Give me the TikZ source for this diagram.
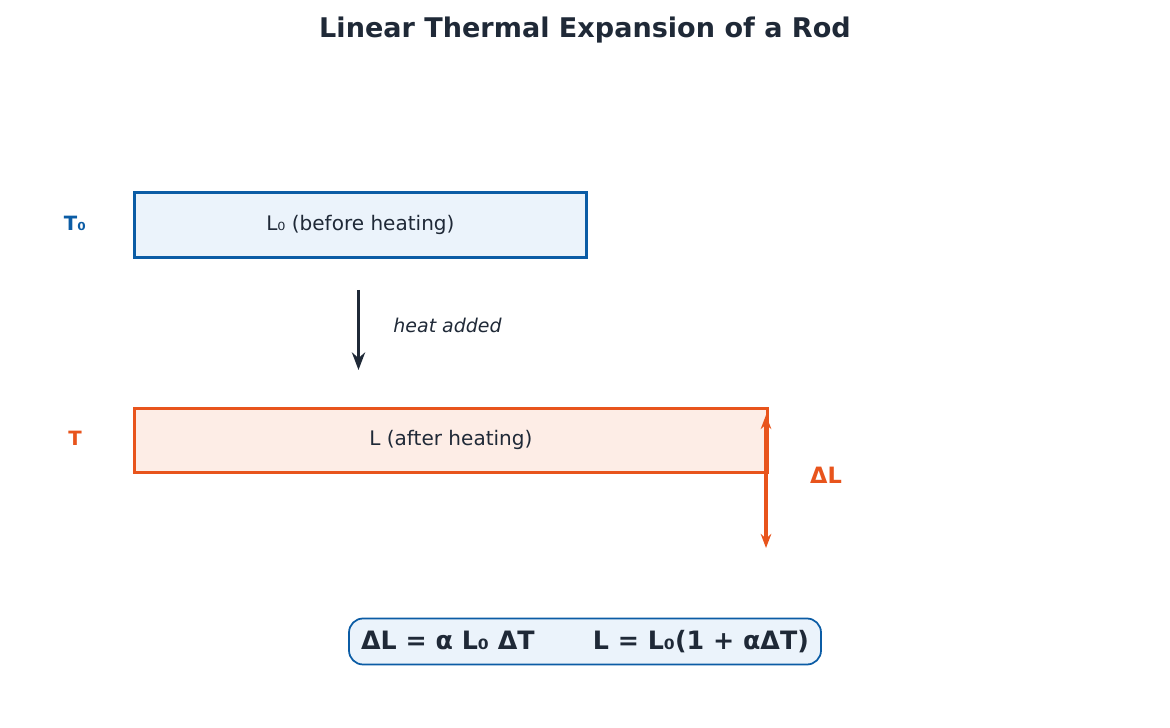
\documentclass[tikz,border=0pt]{standalone}
\usepackage{fontspec}
\setmainfont{DejaVu Sans}
\usetikzlibrary{positioning,arrows.meta}
\definecolor{ink}{HTML}{1F2937}
\definecolor{coldblue}{HTML}{0B5CA5}
\definecolor{coldfill}{HTML}{EBF3FB}
\definecolor{hotorange}{HTML}{E8541C}
\definecolor{hotfill}{HTML}{FDEDE6}
\tikzset{
  rod/.style={draw, line width=0.8pt, inner sep=0pt, anchor=north west, font=\fontsize{5.7}{6}\selectfont, text=ink},
  templabel/.style={font=\bfseries\fontsize{5.6}{6}\selectfont},
}
\begin{document}
\begin{tikzpicture}
  \useasboundingbox (0,0) rectangle (11.70,7.28);
  % title
  \node (title) at (5.85,6.98) [font=\bfseries\fontsize{7.7}{8}\selectfont, text=ink] {Linear Thermal Expansion of a Rod};

  % rod before heating
  \node (rodcold) at (1.33,5.37) [rod, draw=coldblue, fill=coldfill, minimum width=4.52cm, minimum height=0.65cm] {L₀ (before heating)};
  \node (tcold) at (0.75,5.05) [templabel, text=coldblue] {T₀};

  % heat arrow
  \coordinate (heattop) at (3.585,4.38);
  \coordinate (heatbot) at (3.585,3.58);
  \draw [-{Stealth[length=5pt]}, line width=0.9pt, draw=ink] (heattop) -- (heatbot);
  \node (heat) at (3.81,4.03) [anchor=west, font=\itshape\fontsize{5.4}{6}\selectfont, text=ink] {heat added};

  % rod after heating
  \node (rodhot) at (1.33,3.21) [rod, draw=hotorange, fill=hotfill, minimum width=6.33cm, minimum height=0.64cm] {L (after heating)};
  \node (thot) at (0.75,2.90) [templabel, text=hotorange] {T};

  % extension
  \coordinate (dltop) at (7.66,3.13);
  \coordinate (dlbot) at (7.66,1.80);
  \draw [{Stealth[length=4pt]}-{Stealth[length=4pt]}, line width=0.9pt, draw=hotorange] (dltop) -- (dlbot);
  \node (dl) at (8.26,2.53) [font=\bfseries\fontsize{6.4}{7}\selectfont, text=hotorange] {ΔL};

  % formula
  \node (formula) at (5.85,0.865) [draw=coldblue, fill=coldfill, rounded corners=4pt, line width=0.5pt, minimum width=4.72cm, minimum height=0.46cm, inner sep=0pt, font=\bfseries\fontsize{7.2}{8}\selectfont, text=ink] {ΔL = α L₀ ΔT\hspace{2.3em}L = L₀(1 + αΔT)};
\end{tikzpicture}
\end{document}
